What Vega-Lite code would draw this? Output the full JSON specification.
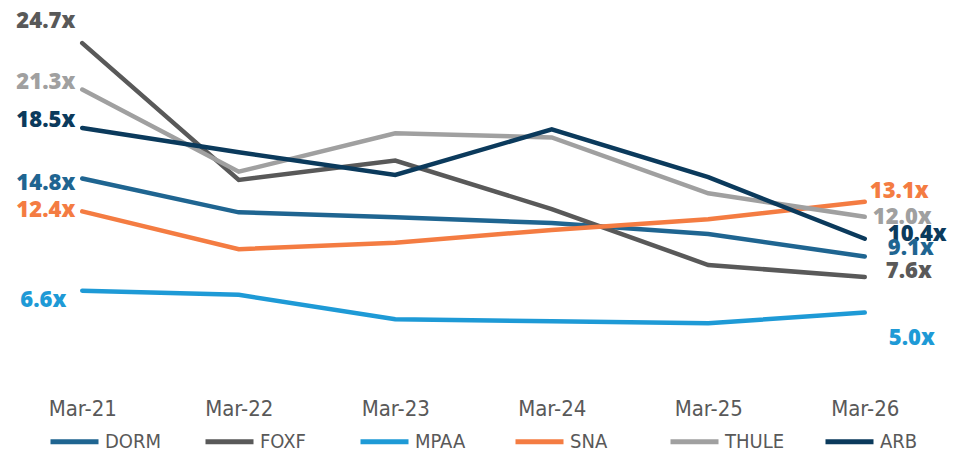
{
  "$schema": "https://vega.github.io/schema/vega-lite/v6.json",
  "autosize": "none",
  "width": 939,
  "height": 371,
  "padding": {"left": 4, "top": 10, "right": 22, "bottom": 73},
  "background": "white",
  "config": {"view": {"stroke": null}},
  "data": {
    "values": [
      {"date": "Mar-21", "series": "DORM", "v": 14.8},
      {"date": "Mar-22", "series": "DORM", "v": 12.33},
      {"date": "Mar-23", "series": "DORM", "v": 11.97},
      {"date": "Mar-24", "series": "DORM", "v": 11.55},
      {"date": "Mar-25", "series": "DORM", "v": 10.75},
      {"date": "Mar-26", "series": "DORM", "v": 9.1},
      {"date": "Mar-21", "series": "FOXF", "v": 24.7},
      {"date": "Mar-22", "series": "FOXF", "v": 14.7},
      {"date": "Mar-23", "series": "FOXF", "v": 16.11},
      {"date": "Mar-24", "series": "FOXF", "v": 12.57},
      {"date": "Mar-25", "series": "FOXF", "v": 8.48},
      {"date": "Mar-26", "series": "FOXF", "v": 7.6},
      {"date": "Mar-21", "series": "MPAA", "v": 6.6},
      {"date": "Mar-22", "series": "MPAA", "v": 6.3},
      {"date": "Mar-23", "series": "MPAA", "v": 4.51},
      {"date": "Mar-24", "series": "MPAA", "v": 4.36},
      {"date": "Mar-25", "series": "MPAA", "v": 4.22},
      {"date": "Mar-26", "series": "MPAA", "v": 5.0},
      {"date": "Mar-21", "series": "SNA", "v": 12.4},
      {"date": "Mar-22", "series": "SNA", "v": 9.64},
      {"date": "Mar-23", "series": "SNA", "v": 10.11},
      {"date": "Mar-24", "series": "SNA", "v": 11.04},
      {"date": "Mar-25", "series": "SNA", "v": 11.82},
      {"date": "Mar-26", "series": "SNA", "v": 13.1},
      {"date": "Mar-21", "series": "THULE", "v": 21.3},
      {"date": "Mar-22", "series": "THULE", "v": 15.3},
      {"date": "Mar-23", "series": "THULE", "v": 18.11},
      {"date": "Mar-24", "series": "THULE", "v": 17.8},
      {"date": "Mar-25", "series": "THULE", "v": 13.72},
      {"date": "Mar-26", "series": "THULE", "v": 12.0},
      {"date": "Mar-21", "series": "ARB", "v": 18.5},
      {"date": "Mar-22", "series": "ARB", "v": 16.72},
      {"date": "Mar-23", "series": "ARB", "v": 15.06},
      {"date": "Mar-24", "series": "ARB", "v": 18.4},
      {"date": "Mar-25", "series": "ARB", "v": 14.9},
      {"date": "Mar-26", "series": "ARB", "v": 10.4}
    ]
  },
  "transform": [{"calculate": "format(datum.v, '.1f') + 'x'", "as": "label"}],
  "encoding": {
    "x": {
      "field": "date", "type": "ordinal", "sort": null,
      "scale": {"type": "point", "padding": 0.5},
      "axis": {
        "title": null, "domain": false, "ticks": false, "grid": false,
        "labelAngle": 0, "labelPadding": 17,
        "labelFont": "Liberation Sans Narrow, DejaVu Sans Condensed, sans-serif",
        "labelFontSize": 22, "labelColor": "#595959"
      }
    },
    "y": {
      "field": "v", "type": "quantitative",
      "scale": {"domain": [0, 27.12], "nice": false, "zero": true},
      "axis": null
    },
    "color": {
      "field": "series", "type": "nominal",
      "scale": {
        "domain": ["DORM", "FOXF", "MPAA", "SNA", "THULE", "ARB"],
        "range": ["#1F6591", "#595959", "#1E9AD6", "#F47C42", "#A0A0A0", "#0B3A5C"]
      },
      "legend": null
    }
  },
  "layer": [
    {
      "mark": {"type": "line", "strokeWidth": 4.5, "strokeCap": "round", "strokeJoin": "miter"},
      "encoding": {
        "color": {
          "field": "series", "type": "nominal",
          "scale": {
            "domain": ["DORM", "FOXF", "MPAA", "SNA", "THULE", "ARB"],
            "range": ["#1F6591", "#595959", "#1E9AD6", "#F47C42", "#A0A0A0", "#0B3A5C"]
          },
          "legend": {
            "title": null, "orient": "none", "legendX": 44, "legendY": 405,
            "direction": "horizontal", "columns": 6, "gridAlign": "all",
            "symbolType": "stroke", "symbolSize": 2304, "symbolStrokeWidth": 5,
            "symbolOffset": 0, "labelOffset": 4, "columnPadding": 30,
            "labelFont": "Liberation Sans Narrow, DejaVu Sans Condensed, sans-serif",
            "labelFontSize": 20, "labelColor": "#595959", "labelLimit": 200
          }
        }
      }
    },
    {"transform": [{"filter": "datum.date == 'Mar-21' && datum.series == 'FOXF'"}],
     "mark": {"type": "text", "align": "right", "baseline": "middle", "dx": -7, "dy": -22, "font": "Open Sans", "fontWeight": 800, "fontSize": 22},
     "encoding": {"text": {"field": "label"}}},
    {"transform": [{"filter": "datum.date == 'Mar-21' && (datum.series == 'THULE' || datum.series == 'ARB')"}],
     "mark": {"type": "text", "align": "right", "baseline": "middle", "dx": -7, "dy": -8, "font": "Open Sans", "fontWeight": 800, "fontSize": 22},
     "encoding": {"text": {"field": "label"}}},
    {"transform": [{"filter": "datum.date == 'Mar-21' && datum.series == 'DORM'"}],
     "mark": {"type": "text", "align": "right", "baseline": "middle", "dx": -7, "dy": 4, "font": "Open Sans", "fontWeight": 800, "fontSize": 22},
     "encoding": {"text": {"field": "label"}}},
    {"transform": [{"filter": "datum.date == 'Mar-21' && datum.series == 'SNA'"}],
     "mark": {"type": "text", "align": "right", "baseline": "middle", "dx": -7, "dy": -1, "font": "Open Sans", "fontWeight": 800, "fontSize": 22},
     "encoding": {"text": {"field": "label"}}},
    {"transform": [{"filter": "datum.date == 'Mar-21' && datum.series == 'MPAA'"}],
     "mark": {"type": "text", "align": "right", "baseline": "middle", "dx": -16, "dy": 9, "font": "Open Sans", "fontWeight": 800, "fontSize": 22},
     "encoding": {"text": {"field": "label"}}},
    {"transform": [{"filter": "datum.date == 'Mar-26' && datum.series == 'SNA'"}],
     "mark": {"type": "text", "align": "left", "baseline": "middle", "dx": 5, "dy": -11, "font": "Open Sans", "fontWeight": 800, "fontSize": 22},
     "encoding": {"text": {"field": "label"}}},
    {"transform": [{"filter": "datum.date == 'Mar-26' && datum.series == 'THULE'"}],
     "mark": {"type": "text", "align": "left", "baseline": "middle", "dx": 8, "dy": 0, "font": "Open Sans", "fontWeight": 800, "fontSize": 22},
     "encoding": {"text": {"field": "label"}}},
    {"transform": [{"filter": "datum.date == 'Mar-26' && datum.series == 'ARB'"}],
     "mark": {"type": "text", "align": "left", "baseline": "middle", "dx": 23, "dy": -5, "font": "Open Sans", "fontWeight": 800, "fontSize": 22},
     "encoding": {"text": {"field": "label"}}},
    {"transform": [{"filter": "datum.date == 'Mar-26' && datum.series == 'DORM'"}],
     "mark": {"type": "text", "align": "left", "baseline": "middle", "dx": 23, "dy": -9, "font": "Open Sans", "fontWeight": 800, "fontSize": 22},
     "encoding": {"text": {"field": "label"}}},
    {"transform": [{"filter": "datum.date == 'Mar-26' && datum.series == 'FOXF'"}],
     "mark": {"type": "text", "align": "left", "baseline": "middle", "dx": 21, "dy": -6, "font": "Open Sans", "fontWeight": 800, "fontSize": 22},
     "encoding": {"text": {"field": "label"}}},
    {"transform": [{"filter": "datum.date == 'Mar-26' && datum.series == 'MPAA'"}],
     "mark": {"type": "text", "align": "left", "baseline": "middle", "dx": 24, "dy": 25, "font": "Open Sans", "fontWeight": 800, "fontSize": 22},
     "encoding": {"text": {"field": "label"}}}
  ]
}
